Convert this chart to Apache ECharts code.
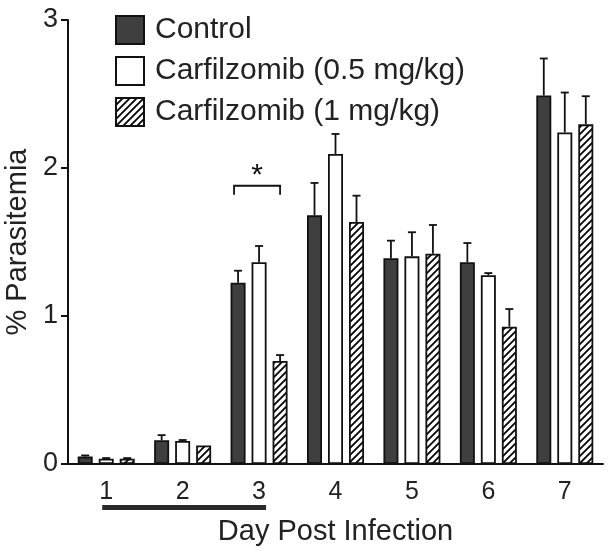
<!DOCTYPE html>
<html>
<head>
<meta charset="utf-8">
<script src="https://cdn.jsdelivr.net/npm/echarts@6/dist/echarts.min.js"></script>
<style>
html,body{margin:0;padding:0;background:#fff;}
#chart{width:613px;height:557px;}
</style>
</head>
<body>
<div id="chart"></div>
<script>
// ---- data ----
const days = ['1', '2', '3', '4', '5', '6', '7'];
const seriesNames = ['Control', 'Carfilzomib (0.5 mg/kg)', 'Carfilzomib (1 mg/kg)'];
const control = [0.05, 0.16, 1.225, 1.68, 1.39, 1.363, 2.49];
const controlErrTop = [0.058, 0.195, 1.306, 1.899, 1.509, 1.493, 2.74];
const low = [0.035, 0.155, 1.363, 2.095, 1.403, 1.275, 2.24];
const lowErrTop = [0.04, 0.162, 1.473, 2.23, 1.566, 1.29, 2.51];
const high = [0.035, 0.125, 0.696, 1.635, 1.421, 0.928, 2.295];
const highErrTop = [0.04, 0.125, 0.736, 1.813, 1.615, 1.047, 2.485];
const yTicks = [0, 1, 2, 3];
// significance bracket: [dayIndex, bracketBottom, bracketTop]
const signif = [[2, 1.82, 1.88]];
// treatment period: [firstDayIndex, lastDayIndex]
const treatment = [[0, 2]];

// ---- style ----
const FONT = 'Liberation Sans, Arial, Helvetica, sans-serif';
const INK = '#111';
const BAR_W = 15;
const GAP_RATIO = 0.4;
const STEP = BAR_W * (1 + GAP_RATIO);

function hatchPattern() {
  const n = 7;
  const c = document.createElement('canvas');
  c.width = n; c.height = n;
  const g = c.getContext('2d');
  g.fillStyle = '#fff';
  g.fillRect(0, 0, n, n);
  g.strokeStyle = '#000';
  g.lineWidth = 1.8;
  g.beginPath();
  g.moveTo(-1, n + 1); g.lineTo(n + 1, -1);
  g.moveTo(-1, 1); g.lineTo(1, -1);
  g.moveTo(n - 1, n + 1); g.lineTo(n + 1, n - 1);
  g.stroke();
  return c;
}

const fills = ['#3f3f3f', '#ffffff', { image: hatchPattern(), repeat: 'repeat' }];
const means = [control, low, high];
const tops = [controlErrTop, lowErrTop, highErrTop];

const series = [];
means.forEach((arr, i) => {
  series.push({
    name: seriesNames[i],
    type: 'bar',
    data: arr,
    barWidth: BAR_W,
    barGap: (GAP_RATIO * 100) + '%',
    itemStyle: { color: fills[i], borderColor: INK, borderWidth: 1.8 },
    emphasis: { disabled: true },
    z: 3
  });
});
means.forEach((arr, i) => {
  const offset = (i - 1) * STEP;
  series.push({
    type: 'custom',
    data: arr.map((v, k) => [k, v, tops[i][k]]),
    z: 4,
    silent: true,
    renderItem: function (params, api) {
      const base = api.coord([api.value(0), api.value(1)]);
      const top = api.coord([api.value(0), api.value(2)]);
      const x = base[0] + offset;
      if (Math.abs(base[1] - top[1]) < 0.5) return null;
      return {
        type: 'group',
        children: [
          { type: 'line', shape: { x1: x, y1: base[1], x2: x, y2: top[1] }, style: { stroke: INK, lineWidth: 1.8 } },
          { type: 'line', shape: { x1: x - 4, y1: top[1], x2: x + 4, y2: top[1] }, style: { stroke: INK, lineWidth: 1.8 } }
        ]
      };
    }
  });
});
// significance bracket
series.push({
  type: 'custom',
  data: signif,
  z: 5,
  silent: true,
  renderItem: function (params, api) {
    const lo = api.coord([api.value(0), api.value(1)]);
    const hi = api.coord([api.value(0), api.value(2)]);
    const x1 = lo[0] - STEP - 4, x2 = lo[0] + STEP;
    return {
      type: 'group',
      children: [
        { type: 'polyline', shape: { points: [[x1, lo[1]], [x1, hi[1]], [x2, hi[1]], [x2, lo[1]]] }, style: { stroke: INK, lineWidth: 1.8, fill: null } },
        { type: 'text', style: { text: '*', x: (x1 + x2) / 2, y: hi[1] - 25, textAlign: 'center', textVerticalAlign: 'top', fontSize: 30, fontFamily: FONT, fill: INK } }
      ]
    };
  }
});
// treatment period bar below the axis
series.push({
  type: 'custom',
  data: treatment,
  z: 5,
  silent: true,
  clip: false,
  renderItem: function (params, api) {
    const a = api.coord([api.value(0), 0]);
    const b = api.coord([api.value(1), 0]);
    return {
      type: 'rect',
      shape: { x: a[0] - 4, y: a[1] + 41, width: b[0] - a[0] + 11, height: 5 },
      style: { fill: '#2a2a2a' }
    };
  }
});

const chart = echarts.init(document.getElementById('chart'), null, { renderer: 'canvas' });
chart.setOption({
  animation: false,
  backgroundColor: '#fff',
  textStyle: { fontFamily: FONT },
  grid: { left: 68, right: 10, top: 20, bottom: 93, containLabel: false, outerBoundsMode: 'none' },
  legend: {
    orient: 'vertical',
    left: 115,
    top: 15,
    padding: 0,
    itemWidth: 28,
    itemHeight: 28,
    itemGap: 11,
    icon: 'rect',
    data: seriesNames,
    selectedMode: false,
    textStyle: { fontSize: 30, color: '#222', fontFamily: FONT, padding: [0, 0, 0, 6] }
  },
  xAxis: {
    type: 'category',
    data: days,
    name: 'Day Post Infection',
    nameLocation: 'middle',
    nameGap: 53,
    nameTextStyle: { fontSize: 29, color: '#222', fontFamily: FONT },
    axisLine: { lineStyle: { color: INK, width: 2 } },
    axisTick: { alignWithLabel: true, length: 8, lineStyle: { color: INK, width: 2 } },
    axisLabel: { fontSize: 25, color: '#222', margin: 16, fontFamily: FONT },
    splitLine: { show: false }
  },
  yAxis: {
    type: 'value',
    min: yTicks[0],
    max: yTicks[yTicks.length - 1],
    interval: 1,
    name: '% Parasitemia',
    nameLocation: 'middle',
    nameGap: 33,
    nameRotate: 90,
    nameTextStyle: { fontSize: 29, color: '#222', fontFamily: FONT },
    axisLine: { show: true, lineStyle: { color: INK, width: 2 } },
    axisTick: { show: true, length: 7, lineStyle: { color: INK, width: 2 } },
    axisLabel: { fontSize: 27, color: '#222', margin: 10, fontFamily: FONT },
    splitLine: { show: false }
  },
  series: series
});
</script>
</body>
</html>
